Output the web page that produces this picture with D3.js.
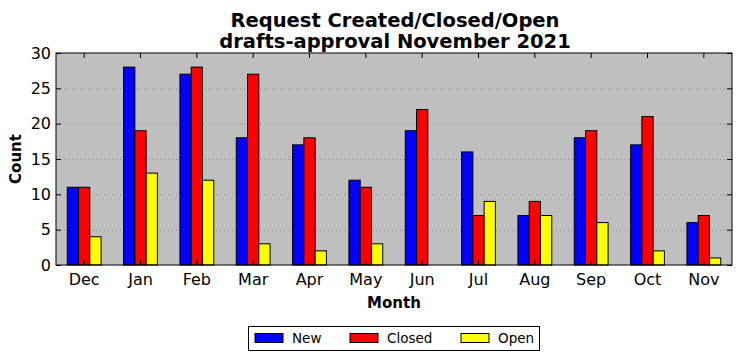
<!DOCTYPE html>
<html><head><meta charset="utf-8">
<script src="https://cdn.jsdelivr.net/npm/d3@7"></script>
<style>body{margin:0;background:#fff;} text{font-family:"DejaVu Sans",sans-serif;}</style>
</head><body><svg id="c" width="742" height="361"></svg>
<script>
const months = ["Dec","Jan","Feb","Mar","Apr","May","Jun","Jul","Aug","Sep","Oct","Nov"];
const seriesNames = ["New","Closed","Open"];
const seriesColors = ["#0000ff","#ff0000","#ffff00"];
const newVals = [11,28,27,18,17,12,19,16,7,18,17,6];
const closedVals = [11,19,28,27,18,11,22,7,9,19,21,7];
const openVals = [4,13,12,3,2,3,0,9,7,6,2,1];
const yTicks = [0,5,10,15,20,25,30];
const titleLines = ["Request Created/Closed/Open","drafts-approval November 2021"];

const series = [newVals, closedVals, openVals];
const svg = d3.select("#c");
const m = {l:56, r:732, t:53, b:265};
const x = d3.scaleBand().domain(months).range([m.l, m.r]).padding(0);
const y = d3.scaleLinear().domain([0,30]).range([m.b, m.t]);
const inner = d3.scaleBand().domain(seriesNames).range([0, x.bandwidth()*0.6]);
const off = x.bandwidth()*0.2;

svg.append("rect").attr("x",m.l).attr("y",m.t).attr("width",m.r-m.l).attr("height",m.b-m.t).attr("fill","#bfbfbf");
// grid
svg.append("g").selectAll("line").data(yTicks.filter(d=>d>0&&d<30)).join("line")
  .attr("x1",m.l).attr("x2",m.r).attr("y1",d=>y(d)+0.5).attr("y2",d=>y(d)+0.5)
  .attr("stroke","#808080").attr("stroke-width",0.8).attr("stroke-dasharray","1,3");
// bars
seriesNames.forEach((s,si)=>{
  svg.append("g").selectAll("rect").data(series[si]).join("rect")
    .attr("x",(d,i)=>x(months[i])+off+inner(s))
    .attr("y",d=>y(d))
    .attr("width",inner.bandwidth())
    .attr("height",d=>y(0)-y(d))
    .attr("fill",seriesColors[si]).attr("stroke","#000").attr("stroke-width",1);
});
// frame
svg.append("rect").attr("x",m.l).attr("y",m.t).attr("width",m.r-m.l).attr("height",m.b-m.t).attr("fill","none").attr("stroke","#000").attr("stroke-width",1);
// axes
const xAxis = d3.axisBottom(x).tickSizeInner(-5).tickSizeOuter(0).tickPadding(9);
const gx = svg.append("g").attr("transform",`translate(0,${m.b})`).call(xAxis);
gx.select(".domain").remove();
gx.selectAll("text").attr("font-size",16).attr("fill","#000");
const gxt = svg.append("g").attr("transform",`translate(0,${m.t})`).call(d3.axisTop(x).tickSizeInner(-5).tickSizeOuter(0).tickFormat(""));
gxt.select(".domain").remove();
const gy = svg.append("g").attr("transform",`translate(${m.l},0)`).call(d3.axisLeft(y).tickValues(yTicks).tickSizeInner(-5).tickSizeOuter(0).tickPadding(5));
gy.select(".domain").remove();
gy.selectAll("text").attr("font-size",16).attr("fill","#000");
const gyr = svg.append("g").attr("transform",`translate(${m.r},0)`).call(d3.axisRight(y).tickValues(yTicks).tickSizeInner(-5).tickSizeOuter(0).tickFormat(""));
gyr.select(".domain").remove();

// titles
svg.append("text").attr("x",395).attr("y",26.5).attr("text-anchor","middle").attr("font-size",19.5).attr("font-weight","bold").text(titleLines[0]);
svg.append("text").attr("x",395).attr("y",47.5).attr("text-anchor","middle").attr("font-size",19.5).attr("font-weight","bold").text(titleLines[1]);
svg.append("text").attr("x",394).attr("y",308).attr("text-anchor","middle").attr("font-size",15).attr("font-weight","bold").text("Month");
svg.append("text").attr("transform","translate(21,159) rotate(-90)").attr("text-anchor","middle").attr("font-size",15).attr("font-weight","bold").text("Count");

// legend
const lg = svg.append("g");
lg.append("rect").attr("x",248.5).attr("y",326.5).attr("width",291).attr("height",24).attr("fill","#fff").attr("stroke","#000");
const lx = [255, 350, 461];
seriesNames.forEach((s,i)=>{
  lg.append("rect").attr("x",lx[i]).attr("y",333.5).attr("width",28).attr("height",9).attr("fill",seriesColors[i]).attr("stroke","#000");
  lg.append("text").attr("x",lx[i]+37).attr("y",343).attr("font-size",13.5).text(s);
});
</script></body></html>
